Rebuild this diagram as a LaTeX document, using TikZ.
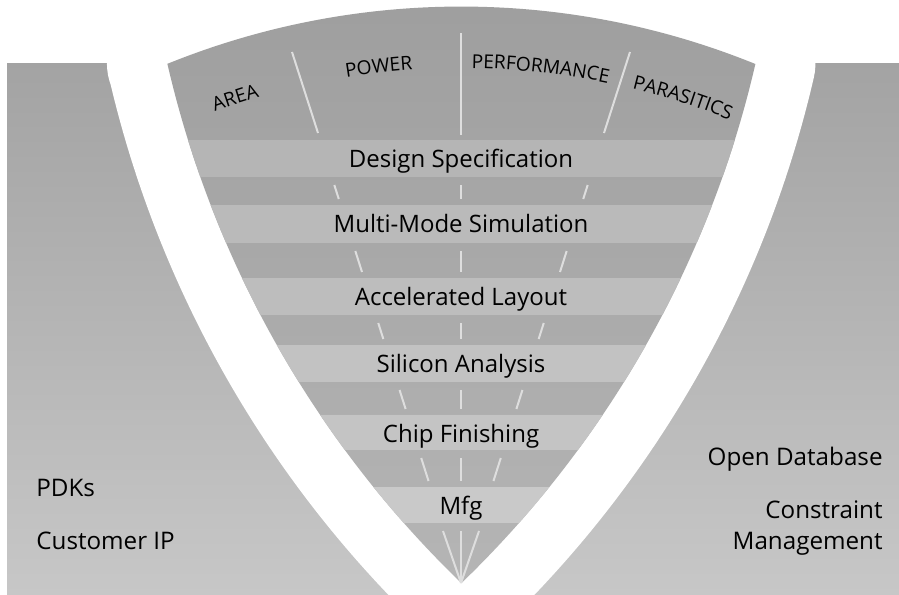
\documentclass[tikz,border=0pt]{standalone}
\usepackage{fontspec}
\setmainfont{Open Sans}
\usetikzlibrary{decorations.text}
\definecolor{outertop}{gray}{0.64}
\definecolor{outerbot}{gray}{0.78}
\definecolor{conetop}{gray}{0.62}
\definecolor{conebot}{gray}{0.71}
\definecolor{divline}{gray}{0.87}
\tikzset{stage/.style={font=\fontsize{12}{14}\selectfont, inner sep=0pt, anchor=base},
        side/.style={font=\fontsize{12.1}{15}\selectfont, inner sep=0pt},
        div/.style={draw=divline, line width=1pt}}
% outline of the cone: top arc, right side, left side
\def\conepath{(167,64) arc[start angle=-112.1, end angle=-67.9, radius=782]
    arc[start angle=13, end angle=46.04, radius=1049]
    arc[start angle=133.96, end angle=167, radius=1049] -- cycle}
\newcommand{\toplabel}[2]{\path[decorate, decoration={text along path, text align=center,
    text={|\fontsize{9.6}{10}\selectfont|#2}}]
    ([shift={(461,789)}]{#1-12}:721) arc[start angle={#1-12}, end angle={#1+12}, radius=721];}

\begin{document}
\begin{tikzpicture}[x=0.5pt, y=-0.5pt]
    \useasboundingbox (0,0) rectangle (899,594);
    \shade[top color=outertop, bottom color=outerbot] (7,63) rectangle (899,594);
    \draw[white, line width=60pt, line join=round] \conepath;
    \shade[top color=conetop, bottom color=conebot] \conepath;
    \coordinate (apex) at (461,583);

    \begin{scope}
        \clip \conepath;
        \foreach \t/\b/\c in {140/177/29, 205/243/27, 278/315/26, 345/382/24, 415/450/23, 487/523/21} {
            \fill[black!\c] (100,\t) rectangle (820,\b);
        }
    \end{scope}

    \foreach \t/\txt [count=\i] in {140/Design Specification, 205/Multi-Mode Simulation, 278/Accelerated Layout,
                                    345/Silicon Analysis, 415/Chip Finishing, 487/Mfg} {
        \node[stage] (s\i) at (461,\t+27) {\txt};
    }

    \draw[div] (292,52) -- (318,133);
    \draw[div] (461,33) -- (461,135);
    \draw[div] (630,52) -- (604,133);
    \foreach \t/\b in {177/205, 243/278, 315/345, 382/415, 450/487} {
        \pgfmathsetmacro{\ya}{\t+8}
        \pgfmathsetmacro{\yb}{\b-6}
        \draw[div] ({461-0.3183*(583-\ya)},\ya) -- ({461-0.3183*(583-\yb)},\yb);
        \draw[div] (461,\ya) -- (461,\yb);
        \draw[div] ({461+0.3183*(583-\ya)},\ya) -- ({461+0.3183*(583-\yb)},\yb);
    }
    \foreach \dx in {-18,0,18} {
        \draw[div] ({461+\dx},531) -- (apex);
    }

    \toplabel{-108.1}{AREA}
    \toplabel{-96.5}{POWER}
    \toplabel{-83.7}{PERFORMANCE}
    \toplabel{-72.2}{PARASITICS}

    \node[side, anchor=base west] (pdk) at (36,496) {PDKs};
    \node[side, anchor=base west] (cip) at (36,549) {Customer IP};
    \node[side, anchor=base east] (odb) at (883,465) {Open Database};
    \node[side, anchor=base east] (con) at (883,518) {Constraint};
    \node[side, anchor=base east] (mgt) at (883,549) {Management};
\end{tikzpicture}
\end{document}
